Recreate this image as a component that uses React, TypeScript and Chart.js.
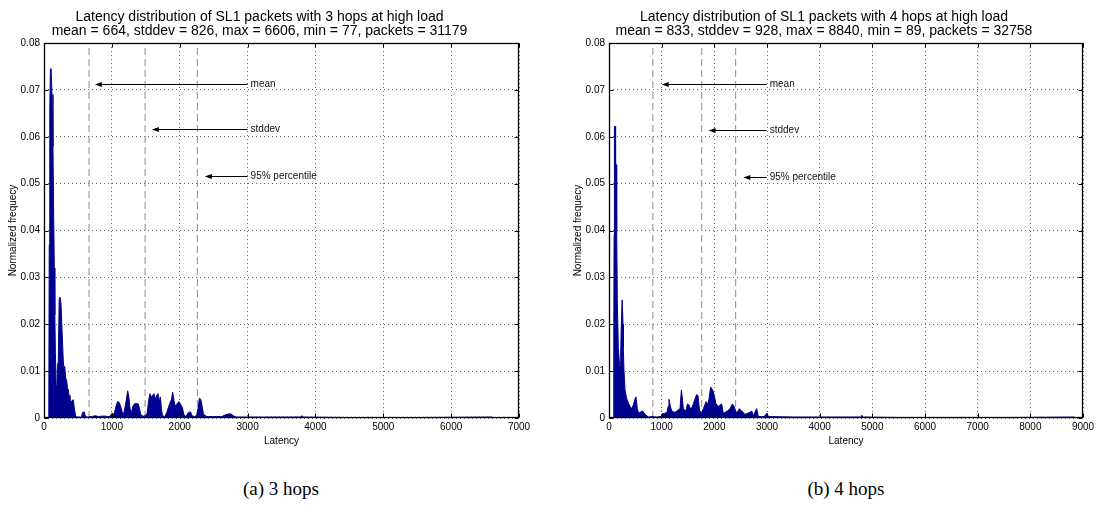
import React, { useEffect, useRef } from 'react';
import { Chart, registerables } from 'chart.js';
Chart.register(...registerables);

// ---------- 3 hops ----------
const title3 = ['Latency distribution of SL1 packets with 3 hops at high load', 'mean = 664, stddev = 826, max = 6606, min = 77, packets = 31179'];
const latency3 = [70, 77, 85, 95, 105, 118, 132, 142, 152, 160, 168, 178, 187, 197, 210, 224, 235, 250, 265, 285, 295, 305, 320, 334, 345, 358, 370, 383, 395, 408, 420, 432, 447, 466, 480, 540, 555, 570, 595, 610, 640, 700, 760, 800, 850, 900, 960, 985, 1000, 1020, 1040, 1060, 1085, 1110, 1140, 1160, 1175, 1190, 1215, 1233, 1250, 1268, 1290, 1310, 1330, 1360, 1390, 1410, 1430, 1460, 1490, 1520, 1545, 1562, 1580, 1600, 1620, 1640, 1660, 1680, 1700, 1715, 1730, 1745, 1780, 1810, 1850, 1880, 1896, 1910, 1930, 1955, 1990, 2010, 2040, 2060, 2090, 2130, 2160, 2180, 2220, 2250, 2270, 2290, 2310, 2330, 2350, 2400, 2500, 2620, 2660, 2700, 2750, 2790, 2830, 3000, 3300, 3780, 3800, 3820, 4500, 5500, 6550, 6606];
const freq3 = [0, 0.037, 0.066, 0.0745, 0.0745, 0.069, 0.058, 0.044, 0.032, 0.022, 0.014, 0.007, 0.004, 0.011, 0.012, 0.0255, 0.0258, 0.0245, 0.019, 0.012, 0.0105, 0.011, 0.0085, 0.008, 0.0065, 0.006, 0.0048, 0.0042, 0.0036, 0.0035, 0.0038, 0.0039, 0.002, 0.0005, 0.0002, 0.0002, 0.0004, 0.0012, 0.0013, 0.0003, 0.0002, 0.0003, 0.0005, 0.0003, 0.0004, 0.0004, 0.0003, 0.0006, 0.001, 0.0008, 0.0012, 0.0025, 0.0035, 0.0033, 0.002, 0.0008, 0.001, 0.002, 0.004, 0.0058, 0.0045, 0.002, 0.0012, 0.0025, 0.003, 0.0031, 0.003, 0.0018, 0.0006, 0.0004, 0.0005, 0.001, 0.004, 0.0052, 0.0045, 0.0048, 0.0052, 0.004, 0.0048, 0.0052, 0.0035, 0.0045, 0.002, 0.0005, 0.0003, 0.0012, 0.003, 0.004, 0.0055, 0.0042, 0.0025, 0.003, 0.0035, 0.003, 0.0022, 0.0008, 0.0003, 0.0012, 0.0013, 0.0005, 0.0003, 0.0006, 0.002, 0.0042, 0.004, 0.0025, 0.0008, 0.0003, 0.0003, 0.0003, 0.0006, 0.0008, 0.0009, 0.0005, 0.0002, 0.0002, 0.0002, 0.0002, 0.0005, 0.0002, 0.0001, 0.0001, 0.0002, 0.0002];
const vlines3 = [664, 1490, 2260];
const arrowHead3 = [750, 1590, 2370];
const arrowTail3 = [3000, 3000, 3000];
const arrowY3 = [0.0712, 0.0616, 0.0516];

// ---------- 4 hops ----------
const title4 = ['Latency distribution of SL1 packets with 4 hops at high load', 'mean = 833, stddev = 928, max = 8840, min = 89, packets = 32758'];
const latency4 = [86, 90, 97, 103, 115, 125, 138, 146, 158, 177, 196, 209, 222, 234, 250, 266, 272, 285, 304, 335, 367, 399, 430, 462, 500, 512, 538, 563, 589, 639, 684, 747, 800, 900, 990, 1000, 1060, 1100, 1125, 1139, 1165, 1190, 1250, 1300, 1348, 1375, 1390, 1411, 1460, 1490, 1520, 1545, 1575, 1614, 1665, 1690, 1720, 1760, 1791, 1820, 1842, 1886, 1915, 1930, 1968, 1994, 2032, 2076, 2139, 2171, 2247, 2297, 2342, 2373, 2424, 2475, 2519, 2582, 2677, 2709, 2740, 2804, 2835, 2950, 2994, 3030, 3500, 4100, 4790, 4800, 4820, 5500, 6500, 7500, 8840];
const freq4 = [0, 0.0157, 0.039, 0.0622, 0.0622, 0.0545, 0.054, 0.04, 0.025, 0.015, 0.012, 0.011, 0.014, 0.02, 0.0252, 0.02, 0.015, 0.01, 0.006, 0.0042, 0.0032, 0.0025, 0.002, 0.0028, 0.0043, 0.0045, 0.002, 0.001, 0.0012, 0.0015, 0.0008, 0.0002, 0.0003, 0.0002, 0.0003, 0.0008, 0.001, 0.0012, 0.0025, 0.004, 0.0025, 0.0015, 0.0012, 0.0016, 0.002, 0.006, 0.0045, 0.002, 0.0015, 0.003, 0.0028, 0.002, 0.0022, 0.0035, 0.005, 0.0048, 0.0015, 0.0012, 0.002, 0.0028, 0.0035, 0.003, 0.0055, 0.0066, 0.006, 0.005, 0.003, 0.0025, 0.003, 0.001, 0.0015, 0.002, 0.003, 0.0025, 0.001, 0.002, 0.0015, 0.0008, 0.0012, 0.0015, 0.0005, 0.002, 0.0003, 0.0003, 0.001, 0.0003, 0.0002, 0.0002, 0.0002, 0.0006, 0.0002, 0.0001, 0.0001, 0.0001, 0.0002];
const vlines4 = [833, 1761, 2405];
const arrowHead4 = [1000, 1890, 2550];
const arrowTail4 = [2994, 2994, 2994];
const arrowY4 = [0.0712, 0.0615, 0.0514];

const arrowLabels = ['mean', 'stddev', '95% percentile'];
const yTicksMax = 0.08;

const FONT = "'Liberation Sans', Arial, Helvetica, sans-serif";
const BAR = '#00008F';

type Props = {
  title: string[];
  lat: number[];
  freq: number[];
  xMax: number;
  vlines: number[];
  head: number[];
  tail: number[];
  ay: number[];
  width: number;
  height: number;
  padRight: number;
};

const overlayPlugin = {
  id: 'overlay',
  afterDatasetsDraw(chart: any, _a: any, opts: any) {
    const { ctx, scales } = chart;
    const x = scales.x, y = scales.y;
    ctx.save();
    ctx.strokeStyle = '#000';
    ctx.fillStyle = '#000';
    ctx.lineWidth = 1;
    const heads: number[] = opts.head, tails: number[] = opts.tail, ys: number[] = opts.ay;
    heads.forEach((h, i) => {
      const px = Math.round(y.getPixelForValue(ys[i])) + 0.5;
      const hx = x.getPixelForValue(h);
      const tx = x.getPixelForValue(tails[i]);
      ctx.beginPath();
      ctx.moveTo(tx, px);
      ctx.lineTo(hx + 6, px);
      ctx.stroke();
      ctx.beginPath();
      ctx.moveTo(hx, px);
      ctx.lineTo(hx + 7, px - 2.5);
      ctx.lineTo(hx + 7, px + 2.5);
      ctx.closePath();
      ctx.fill();
      ctx.font = `10px ${FONT}`;
      ctx.textBaseline = 'middle';
      ctx.textAlign = 'left';
      ctx.fillStyle = '#111';
      ctx.fillText(arrowLabels[i], tx + 3, px);
      ctx.fillStyle = '#000';
    });
    ctx.restore();
  },
  afterDraw(chart: any) {
    const { ctx, chartArea: a, scales } = chart;
    ctx.save();
    ctx.strokeStyle = '#000';
    ctx.lineWidth = 1;
    const L = Math.round(a.left) + 0.5, R = Math.round(a.right) - 0.5;
    const T = Math.round(a.top) + 0.5, B = Math.round(a.bottom) - 0.5;
    ctx.beginPath();
    scales.x.ticks.forEach((t: any) => {
      const px = Math.round(scales.x.getPixelForValue(t.value)) + 0.5;
      ctx.moveTo(px, B); ctx.lineTo(px, B - 4);
      ctx.moveTo(px, T); ctx.lineTo(px, T + 4);
    });
    scales.y.ticks.forEach((t: any) => {
      const py = Math.round(scales.y.getPixelForValue(t.value)) + 0.5;
      ctx.moveTo(L, py); ctx.lineTo(L + 4, py);
      ctx.moveTo(R, py); ctx.lineTo(R - 4, py);
    });
    ctx.stroke();
    ctx.lineWidth = 1.3;
    ctx.strokeRect(L, T, R - L, B - T);
    ctx.restore();
  },
};

function HistChart(p: Props) {
  const ref = useRef<HTMLCanvasElement>(null);
  useEffect(() => {
    if (!ref.current) return;
    const hist = p.lat.map((v, i) => ({ x: v, y: p.freq[i] }));
    const vDatasets = p.vlines.map((v) => ({
      type: 'line' as const,
      data: [{ x: v, y: 0 }, { x: v, y: yTicksMax }],
      borderColor: '#8a8a8a',
      borderWidth: 1,
      borderDash: [7, 4],
      pointRadius: 0,
      fill: false,
    }));
    const chart = new Chart(ref.current, {
      type: 'line',
      data: {
        datasets: [
          {
            data: hist,
            borderColor: BAR,
            backgroundColor: BAR,
            borderWidth: 1,
            pointRadius: 0,
            fill: 'origin',
            tension: 0,
          } as any,
          ...vDatasets,
        ],
      },
      options: {
        animation: false,
        responsive: false,
        devicePixelRatio: 1,
        layout: { padding: { left: 0, right: p.padRight, top: 0, bottom: 0 } },
        plugins: {
          legend: { display: false },
          tooltip: { enabled: false },
          title: {
            display: true,
            text: p.title,
            color: '#000',
            font: { family: FONT, size: 14, weight: 'normal', lineHeight: 1.0 },
            padding: { top: 10, bottom: 5 },
          },
          overlay: { head: p.head, tail: p.tail, ay: p.ay },
        } as any,
        scales: {
          x: {
            type: 'linear',
            min: 0,
            max: p.xMax,
            afterFit: (s: any) => { s.height = 30; },
            ticks: {
              stepSize: 1000,
              color: '#000',
              font: { family: FONT, size: 10 },
              padding: 3,
              maxRotation: 0,
              callback: (v: any) => String(v),
            },
            grid: { color: 'rgba(0,0,0,0.6)', drawTicks: false, lineWidth: 1 },
            border: { display: false, dash: [1, 3] },
            title: { display: true, text: 'Latency', color: '#000', font: { family: FONT, size: 10 }, padding: { top: 0, bottom: 1 } },
          },
          y: {
            type: 'linear',
            min: 0,
            max: yTicksMax,
            afterFit: (s: any) => { s.width = 44; },
            ticks: {
              stepSize: 0.01,
              color: '#000',
              font: { family: FONT, size: 10 },
              padding: 4,
              callback: (v: any) => (Number(v) === 0 ? '0' : Number(v).toFixed(2)),
            },
            grid: { color: 'rgba(0,0,0,0.6)', drawTicks: false, lineWidth: 1 },
            border: { display: false, dash: [1, 3] },
            title: { display: true, text: 'Normalized frequecy', color: '#000', font: { family: FONT, size: 10 }, padding: { top: 7, bottom: 0 } },
          },
        },
      },
      plugins: [overlayPlugin as any],
    });
    return () => chart.destroy();
  }, []);
  return <canvas ref={ref} width={p.width} height={p.height} style={{ display: 'block', width: p.width, height: p.height }} />;
}

const captionStyle: React.CSSProperties = {
  position: 'absolute',
  top: 477,
  width: 300,
  textAlign: 'center',
  fontFamily: "'Liberation Serif', 'Times New Roman', serif",
  fontSize: 19,
  lineHeight: '24px',
  color: '#000',
};

export default function App() {
  return (
    <div style={{ position: 'fixed', left: 0, top: 0, width: 1099, height: 514, background: '#fff', overflow: 'hidden' }}>
      <div style={{ position: 'absolute', left: 0, top: 0 }}>
        <HistChart title={title3} lat={latency3} freq={freq3} xMax={7000} vlines={vlines3} head={arrowHead3} tail={arrowTail3} ay={arrowY3} width={549} height={448} padRight={30} />
      </div>
      <div style={{ position: 'absolute', left: 565, top: 0 }}>
        <HistChart title={title4} lat={latency4} freq={freq4} xMax={9000} vlines={vlines4} head={arrowHead4} tail={arrowTail4} ay={arrowY4} width={534} height={448} padRight={16} />
      </div>
      <div style={{ ...captionStyle, left: 281 - 150 }}>(a) 3 hops</div>
      <div style={{ ...captionStyle, left: 846 - 150 }}>(b) 4 hops</div>
    </div>
  );
}
